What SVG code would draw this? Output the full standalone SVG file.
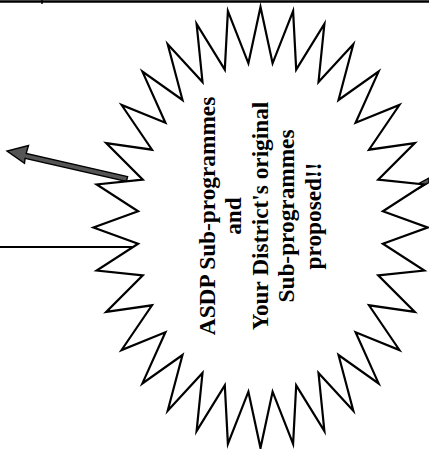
<svg xmlns="http://www.w3.org/2000/svg" width="429" height="449" viewBox="0 0 429 449">
<style>
.star{fill:#fff;stroke:#000;stroke-width:2.2;stroke-linejoin:miter;stroke-miterlimit:10}
.lbl{font-family:"Liberation Serif","Times New Roman",serif;font-weight:bold;font-size:23.3px;fill:#000;text-anchor:middle}
.ln{stroke:#000;stroke-width:2;fill:none}
.blk{fill:#555;stroke:#000;stroke-width:1.4;stroke-linejoin:miter}
</style>
<rect width="429" height="449" fill="#fff"/>
<g id="frame">
<line class="ln" x1="0" y1="1.5" x2="429" y2="1.5" style="stroke-width:2.6"/>
<line class="ln" x1="42" y1="0" x2="42" y2="4" style="stroke-width:1.5"/>
</g>
<g id="connectors">
<line class="ln" x1="0" y1="247" x2="138" y2="247"/>
<polygon class="blk" points="127.6,176.6 26.2,153.4 28.5,145.5 7,151 24.5,163.2 25.1,158.3 126.4,181.4"/>
<polygon class="blk" points="416,185 429,178 429,182.5 418,189"/>
</g>
<g id="burst">
<polygon class="star" points="260.5,7 272.6,63.3 293.1,11.2 296.2,69.6 324.4,23.8 318.5,82 353.3,44.2 338.5,100 378.6,71.6 355.6,122.8 399.4,105 369,149.7 414.8,143.1 378.2,179.6 424.3,184.5 382.9,211.3 427.5,227.5 382.9,243.7 424.3,270.5 378.2,275.4 414.8,311.9 369,305.3 399.4,350 355.6,332.2 378.6,383.4 338.5,355 353.3,410.8 318.5,373 324.4,431.2 296.2,385.4 293.1,443.8 272.6,391.7 260.5,448 248.4,391.7 227.9,443.8 224.8,385.4 196.6,431.2 202.5,373 167.7,410.8 182.5,355 142.4,383.4 165.4,332.2 121.6,350 152,305.3 106.2,311.9 142.8,275.4 96.7,270.5 138.1,243.7 93.5,227.5 138.1,211.3 96.7,184.5 142.8,179.6 106.2,143.1 152,149.7 121.6,105 165.4,122.8 142.4,71.6 182.5,100 167.7,44.2 202.5,82 196.6,23.8 224.8,69.6 227.9,11.2 248.4,63.3"/>
<text class="lbl" transform="translate(215,216) rotate(-90)">ASDP Sub-programmes</text>
<text class="lbl" transform="translate(241,216) rotate(-90)">and</text>
<text class="lbl" transform="translate(267.5,216) rotate(-90)">Your District's original</text>
<text class="lbl" transform="translate(294,216) rotate(-90)">Sub-programmes</text>
<text class="lbl" transform="translate(321,216) rotate(-90)">proposed!!</text>
</g>
</svg>
